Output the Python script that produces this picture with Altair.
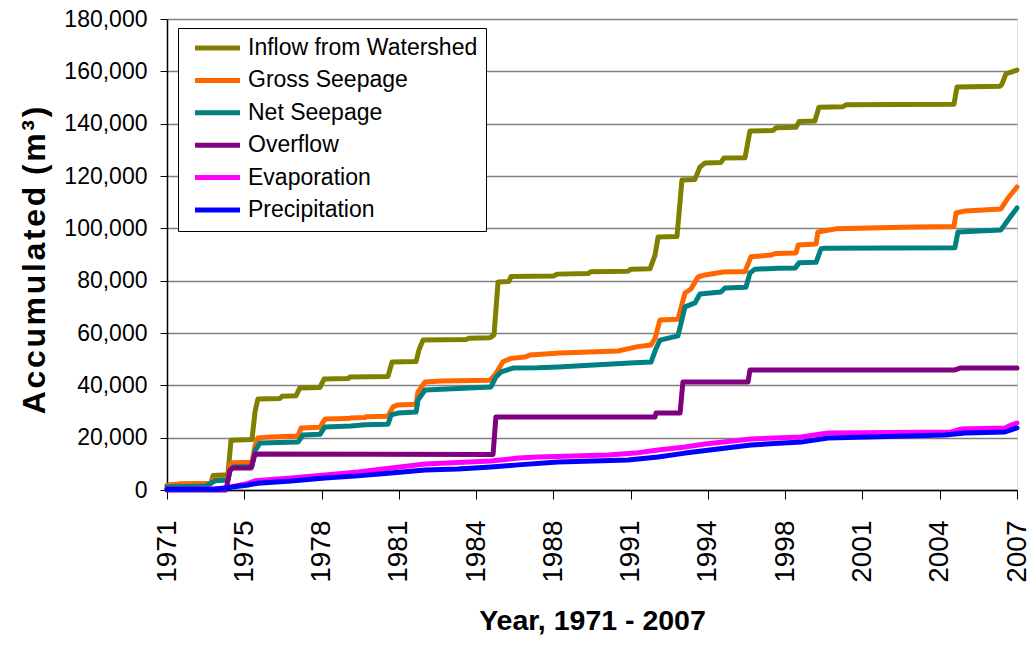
import altair as alt
import pandas as pd

# ---------------- data ----------------
series_names = ["Inflow from Watershed", "\u00a0Gross Seepage", "\u00a0Net Seepage",
                "Overflow", "\u00a0Evaporation", "Precipitation"]
series_colors = ["#808000", "#FF6600", "#008080", "#800080", "#FF00FF", "#0000FF"]

inflow_year = [1971.00, 1971.59, 1972.86, 1972.95, 1973.58, 1973.71, 1974.60, 1974.73, 1974.85,
               1975.79, 1975.87, 1976.46, 1976.63, 1977.48, 1977.65, 1978.67, 1978.75, 1980.36,
               1980.53, 1981.55, 1981.67, 1981.84, 1983.66, 1983.79, 1984.68, 1984.81, 1984.85,
               1985.02, 1985.48, 1985.57, 1987.39, 1987.52, 1988.83, 1988.96, 1990.52, 1990.65,
               1991.46, 1991.67, 1991.80, 1992.60, 1992.81, 1993.36, 1993.57, 1993.79, 1994.46,
               1994.59, 1995.48, 1995.69, 1996.67, 1996.79, 1997.64, 1997.77, 1998.44, 1998.61,
               1999.63, 1999.76, 2004.33, 2004.46, 2006.28, 2006.36, 2006.53, 2007.00]
inflow_value = [1800, 2300, 2500, 5500, 5800, 19000, 19300, 30000, 34800,
                35000, 35800, 36000, 39000, 39200, 42400, 42600, 43200, 43400,
                48900, 49100, 53500, 57300, 57500, 58000, 58200, 59000, 59300,
                79500, 79700, 81600, 81800, 82500, 82700, 83400, 83600, 84400,
                84600, 89800, 96700, 96900, 118500, 118700, 123400, 125000, 125200,
                126900, 127000, 137200, 137400, 138400, 138600, 140800, 141000, 146300,
                146500, 147200, 147400, 154000, 154300, 155000, 159000, 160500]

gross_year = [1971.00, 1971.59, 1972.86, 1972.95, 1973.58, 1973.67, 1973.80, 1974.60, 1974.73,
              1974.85, 1975.40, 1976.55, 1976.68, 1977.48, 1977.69, 1978.67, 1978.75, 1979.39,
              1979.43, 1980.36, 1980.57, 1980.78, 1981.55, 1981.63, 1981.93, 1982.60, 1984.68,
              1984.93, 1985.02, 1985.23, 1985.57, 1986.16, 1986.37, 1987.64, 1990.10, 1990.65,
              1990.95, 1991.50, 1991.67, 1991.88, 1992.64, 1992.94, 1993.19, 1993.49, 1993.79,
              1994.55, 1995.48, 1995.73, 1996.58, 1996.79, 1997.64, 1997.73, 1998.49, 1998.57,
              1999.33, 2002.68, 2004.33, 2004.42, 2004.80, 2006.32, 2006.62, 2007.00]
gross_value = [1600, 2300, 2500, 3800, 4000, 9500, 10400, 10600, 17000,
               19900, 20300, 20600, 23700, 24000, 27100, 27300, 27500, 27700,
               28000, 28200, 31800, 32500, 32800, 37500, 41300, 41700, 41900,
               44500, 45900, 49000, 50300, 50800, 51600, 52400, 53100, 54200,
               54800, 55400, 58000, 65000, 65300, 75300, 76800, 81400, 82200,
               83300, 83500, 89100, 89800, 90400, 90600, 93600, 94000, 98600,
               99800, 100500, 100700, 105900, 106600, 107400, 111600, 115800]

net_year = [1971.00, 1972.64, 1972.86, 1973.03, 1973.58, 1973.67, 1973.80, 1974.60, 1974.73,
            1974.94, 1976.55, 1976.76, 1977.48, 1977.69, 1978.79, 1979.39, 1980.36, 1980.49,
            1980.78, 1981.55, 1981.63, 1981.93, 1984.72, 1984.93, 1985.15, 1985.65, 1986.71,
            1987.56, 1990.61, 1991.50, 1991.71, 1991.88, 1992.64, 1992.94, 1993.36, 1993.57,
            1994.46, 1994.63, 1995.52, 1995.69, 1995.90, 1996.88, 1997.60, 1997.77, 1998.49,
            1998.70, 1998.87, 2004.37, 2004.50, 2006.32, 2006.62, 2007.00]
net_value = [1100, 1500, 2600, 3500, 3800, 7500, 8800, 9000, 15000,
             18000, 18300, 21000, 21300, 24100, 24500, 24900, 25100, 28700,
             29400, 29800, 34400, 38200, 39400, 43200, 45100, 46600, 46700,
             47000, 48500, 48900, 54000, 57300, 58900, 70000, 71500, 74900,
             75700, 77200, 77500, 82900, 84400, 84700, 84800, 86800, 87000,
             92200, 92400, 92600, 98600, 99400, 103200, 107800]

overflow_year = [1971.00, 1973.50, 1973.67, 1973.80, 1974.56, 1974.73, 1984.81, 1984.93,
                 1991.67, 1991.71, 1992.73, 1992.85, 1995.61, 1995.69, 2004.37, 2004.59, 2007.00]
overflow_value = [0, 0, 7600, 8400, 8400, 13800, 13600, 27900,
                  27900, 29400, 29400, 41300, 41300, 45900, 45900, 46600, 46600]

evap_year = [1971.00, 1973.03, 1973.50, 1974.43, 1974.73, 1976.25, 1977.69, 1979.09, 1980.49,
             1981.93, 1983.32, 1984.72, 1985.87, 1986.71, 1989.68, 1990.82, 1991.80, 1992.94,
             1993.79, 1995.73, 1997.85, 1998.99, 2004.21, 2004.63, 2006.49, 2006.75, 2007.00]
evap_value = [300, 500, 800, 2500, 3500, 4600, 5700, 6900, 8400,
              9900, 10500, 11100, 12200, 12600, 13400, 14100, 15300, 16400,
              17600, 19500, 20300, 21800, 22200, 23300, 23700, 24800, 25600]

precip_year = [1971.00, 1973.03, 1974.43, 1974.85, 1976.25, 1977.69, 1979.09, 1980.49, 1981.93,
               1983.32, 1984.72, 1985.87, 1987.56, 1990.52, 1991.80, 1992.94, 1995.73, 1997.85,
               1998.99, 2000.69, 2003.95, 2004.80, 2006.49, 2007.00]
precip_value = [300, 300, 1900, 2600, 3400, 4600, 5400, 6500, 7600,
                8000, 8800, 9600, 10700, 11500, 12600, 14100, 17200, 18300,
                19900, 20300, 21000, 21800, 22200, 23700]

x_tick_labels = ["1971", "1975", "1978", "1981", "1984", "1988",
                 "1991", "1994", "1998", "2001", "2004", "2007"]
y_ticks = [0, 20000, 40000, 60000, 80000, 100000, 120000, 140000, 160000, 180000]

# ---------------- table ----------------
all_years = [inflow_year, gross_year, net_year, overflow_year, evap_year, precip_year]
all_values = [inflow_value, gross_value, net_value, overflow_value, evap_value, precip_value]
rows = []
for name, yrs, vals in zip(series_names, all_years, all_values):
    for i, (yy, vv) in enumerate(zip(yrs, vals)):
        rows.append({"series": name, "year": yy, "value": vv, "idx": i})
df = pd.DataFrame(rows)

# evenly spaced date-axis ticks (as in the spreadsheet original)
n_int = len(x_tick_labels) - 1
x_tick_pos = [1971 + k * 36 / n_int for k in range(len(x_tick_labels))]
label_expr = "[" + ",".join("'%s'" % s for s in x_tick_labels) + "][round((datum.value-1971)*%d/36)]" % n_int

REG = "Liberation Sans, Arial"

y_title = "\u200a".join("Accumulated") + " \u200a(\u200am\u200a³\u200a)"

chart = alt.Chart(df).mark_line(strokeWidth=5, strokeJoin="round", strokeCap="round").encode(
    x=alt.X("year:Q",
            scale=alt.Scale(domain=[1971, 2007], nice=False, zero=False),
            axis=alt.Axis(values=x_tick_pos, labelExpr=label_expr, labelAngle=270,
                          labelFont=REG, labelFontSize=28, labelColor="black",
                          tickSize=9, tickColor="black", labelPadding=21,
                          domainColor="black", domainWidth=1.5, grid=False,
                          title="Year, 1971 - 2007", titleFont=REG, titleFontSize=28.5,
                          titleFontWeight="bold", titleColor="black", titlePadding=24,
                          labelOverlap=False, labelFlush=False)),
    y=alt.Y("value:Q",
            scale=alt.Scale(domain=[0, 180000], nice=False),
            axis=alt.Axis(values=y_ticks, format=",.0f", labelFont=REG, labelFontSize=23,
                          labelColor="black", tickSize=7, tickColor="black", labelPadding=13,
                          domainColor="black", domainWidth=1.5,
                          grid=True, gridColor="#808080", gridWidth=1.5,
                          title=y_title, titleFont=REG, titleFontSize=32,
                          titleFontWeight="bold", titleColor="black", titlePadding=12,
                          titleY=241, labelOverlap=False)),
    color=alt.Color("series:N",
                    scale=alt.Scale(domain=series_names, range=series_colors),
                    legend=alt.Legend(title=None, orient="none", legendX=11, legendY=9,
                                      symbolType="M-2.5,0H2.5", symbolStrokeWidth=5,
                                      symbolSize=324, symbolFillColor="transparent",
                                      labelFont=REG, labelFontSize=23, labelColor="black",
                                      labelLimit=500, strokeColor="black", fillColor="white",
                                      padding=8.5, rowPadding=8.4, labelOffset=19,
                                      symbolOffset=19.5)),
    order=alt.Order("idx:Q"),
).properties(
    width=850, height=471,
    autosize=alt.AutoSizeParams(type="none"),
    padding={"left": 159, "top": 11, "right": 11, "bottom": 152},
).configure_view(
    stroke="#808080", strokeWidth=1.5
).configure(background="white")

chart.save("out.html", embed_options={"renderer": "svg", "actions": False})
